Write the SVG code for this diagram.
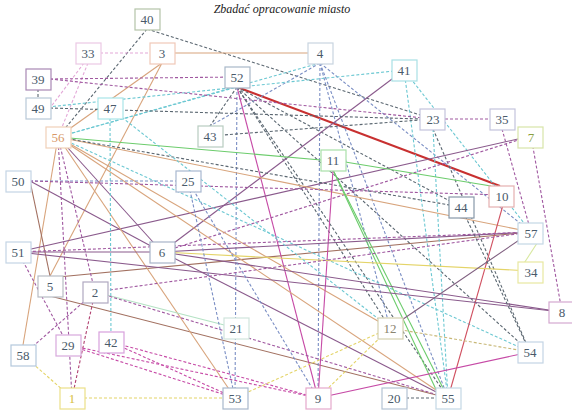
<svg xmlns="http://www.w3.org/2000/svg" width="572" height="410" viewBox="0 0 572 410">
<style>
.n rect{fill:#fff;stroke-width:1.2;width:25px;height:21px}
.n text{font-family:"Liberation Serif",serif;font-size:13px;fill:#4a5a6a;text-anchor:middle}
.e line{fill:none;stroke-width:1.1}
.d{stroke-dasharray:3,2}
.pe{stroke:#d8a47c}.br{stroke:#a27060}.pu{stroke:#8a5a8c}.ma{stroke:#c64aa6}.rd{stroke:#c83030}
.gr{stroke:#6ccc6c}.cy{stroke:#6cc8d2}.bl{stroke:#7a8ec4}.dk{stroke:#5a6670}.pk{stroke:#e4a8d8}
.ye{stroke:#e4d468}.kh{stroke:#c8b878}.lg{stroke:#b4e2c4}.vi{stroke:#a058a0}
</style>
<text x="282" y="13" font-family="Liberation Serif,serif" font-style="italic" font-size="12" text-anchor="middle" fill="#222">Zbadać opracowanie miasto</text>
<g id="connectors" class="e">
<line class="dk d" x1="147" y1="29" x2="433" y2="119"/>
<line class="dk d" x1="147" y1="29" x2="58" y2="137"/>
<line class="pk d" x1="100" y1="53" x2="150" y2="53"/>
<line class="pk d" x1="88" y1="63" x2="58" y2="137"/>
<line class="pk d" x1="84" y1="63" x2="50" y2="108"/>
<line class="pe" x1="174" y1="53" x2="308" y2="53"/>
<line class="pe" x1="162" y1="63" x2="58" y2="137"/>
<line class="pe" x1="162" y1="63" x2="50" y2="276"/>
<line class="pe" x1="58" y1="137" x2="23" y2="345"/>
<line class="br" x1="30" y1="181" x2="50" y2="276"/>
<line class="pu" x1="30" y1="181" x2="162" y2="252"/>
<line class="br" x1="50" y1="296" x2="448" y2="398"/>
<line class="br" x1="58" y1="277" x2="531" y2="232"/>
<line class="rd" x1="237" y1="87" x2="500" y2="186" style="stroke-width:2"/>
<line class="vi d" x1="50" y1="79" x2="237" y2="77"/>
<line class="ma" x1="237" y1="87" x2="318" y2="398"/>
<line class="dk d" x1="237" y1="87" x2="210" y2="126"/>
<line class="dk d" x1="237" y1="87" x2="448" y2="398"/>
<line class="dk d" x1="237" y1="87" x2="390" y2="328"/>
<line class="dk d" x1="237" y1="87" x2="530" y2="352"/>
<line class="dk d" x1="237" y1="87" x2="461" y2="207"/>
<line class="cy d" x1="58" y1="137" x2="237" y2="87"/>
<line class="bl d" x1="237" y1="87" x2="235" y2="398"/>
<line class="cy d" x1="320" y1="63" x2="58" y2="137"/>
<line class="bl d" x1="320" y1="63" x2="318" y2="398"/>
<line class="bl d" x1="320" y1="63" x2="448" y2="398"/>
<line class="bl d" x1="320" y1="63" x2="390" y2="328"/>
<line class="bl d" x1="320" y1="63" x2="531" y2="232"/>
<line class="bl d" x1="320" y1="63" x2="210" y2="126"/>
<line class="pu" x1="404" y1="70" x2="162" y2="252"/>
<line class="cy d" x1="404" y1="70" x2="38" y2="108"/>
<line class="cy d" x1="404" y1="70" x2="448" y2="398"/>
<line class="cy d" x1="404" y1="70" x2="531" y2="232"/>
<line class="vi d" x1="445" y1="119" x2="490" y2="119"/>
<line class="vi d" x1="50" y1="79" x2="433" y2="119"/>
<line class="dk d" x1="50" y1="108" x2="421" y2="119"/>
<line class="dk d" x1="433" y1="129" x2="530" y2="352"/>
<line class="cy d" x1="433" y1="129" x2="448" y2="398"/>
<line class="vi d" x1="502" y1="129" x2="531" y2="232"/>
<line class="pu" x1="531" y1="136" x2="18" y2="252"/>
<line class="vi d" x1="531" y1="136" x2="162" y2="252"/>
<line class="vi d" x1="531" y1="136" x2="562" y2="312"/>
<line class="gr" x1="58" y1="137" x2="321" y2="160"/>
<line class="pe" x1="58" y1="137" x2="531" y2="232"/>
<line class="pe" x1="58" y1="137" x2="448" y2="398"/>
<line class="pu" x1="58" y1="137" x2="162" y2="252"/>
<line class="pe" x1="58" y1="137" x2="235" y2="398"/>
<line class="pe" x1="58" y1="137" x2="390" y2="328"/>
<line class="vi d" x1="58" y1="137" x2="95" y2="292"/>
<line class="vi d" x1="58" y1="137" x2="72" y2="398"/>
<line class="cy d" x1="58" y1="137" x2="530" y2="352"/>
<line class="dk d" x1="58" y1="137" x2="461" y2="207"/>
<line class="gr" x1="333" y1="160" x2="491" y2="186"/>
<line class="gr" x1="333" y1="170" x2="448" y2="398"/>
<line class="gr" x1="333" y1="170" x2="440" y2="398"/>
<line class="ma" x1="333" y1="170" x2="318" y2="398"/>
<line class="rd" x1="503" y1="205" x2="448" y2="398" style="stroke:#d05060"/>
<line class="ma" x1="530" y1="352" x2="318" y2="398"/>
<line class="pu" x1="162" y1="252" x2="562" y2="312"/>
<line class="pu" x1="162" y1="252" x2="531" y2="232"/>
<line class="pu" x1="162" y1="252" x2="448" y2="398"/>
<line class="pu" x1="18" y1="252" x2="162" y2="252"/>
<line class="ye" x1="162" y1="252" x2="531" y2="271"/>
<line class="pu" x1="18" y1="252" x2="562" y2="312"/>
<line class="vi d" x1="18" y1="252" x2="531" y2="232"/>
<line class="vi d" x1="18" y1="252" x2="68" y2="345"/>
<line class="bl d" x1="30" y1="181" x2="188" y2="181"/>
<line class="vi d" x1="30" y1="181" x2="503" y2="195"/>
<line class="vi d" x1="95" y1="292" x2="23" y2="355"/>
<line class="vi d" x1="95" y1="292" x2="72" y2="398" style="stroke:#b04070"/>
<line class="lg" x1="95" y1="292" x2="236" y2="328"/>
<line class="vi d" x1="95" y1="292" x2="531" y2="232"/>
<line class="vi d" x1="95" y1="292" x2="448" y2="398"/>
<line class="cy d" x1="110" y1="118" x2="111" y2="342"/>
<line class="ma d" x1="111" y1="342" x2="318" y2="398"/>
<line class="ma d" x1="111" y1="342" x2="235" y2="398"/>
<line class="ma d" x1="68" y1="345" x2="235" y2="398"/>
<line class="ma d" x1="68" y1="345" x2="318" y2="398"/>
<line class="ye d" x1="84" y1="398" x2="223" y2="398"/>
<line class="ye d" x1="72" y1="398" x2="23" y2="355"/>
<line class="ye d" x1="235" y1="398" x2="390" y2="328"/>
<line class="bl d" x1="235" y1="398" x2="188" y2="181"/>
<line class="ye d" x1="318" y1="398" x2="390" y2="328"/>
<line class="bl d" x1="318" y1="398" x2="188" y2="181"/>
<line class="dk d" x1="406" y1="398" x2="436" y2="398"/>
<line class="kh d" x1="390" y1="328" x2="530" y2="352"/>
<line class="pu" x1="390" y1="328" x2="531" y2="232" style="stroke:#806080"/>
<line class="ye" x1="543" y1="234" x2="519" y2="271" style="stroke:#d8e8a0"/>
<line class="dk d" x1="461" y1="207" x2="530" y2="352"/>
<line class="cy d" x1="110" y1="108" x2="390" y2="328"/>
<line class="dk d" x1="38" y1="79" x2="38" y2="108"/>
<line class="dk d" x1="210" y1="136" x2="433" y2="119"/>
</g>
<g id="n40" class="n"><rect x="135" y="9" width="25" height="21" style="stroke:#b4c4a8"/><text x="147" y="24">40</text></g>
<g id="n33" class="n"><rect x="76" y="43" width="25" height="21" style="stroke:#ecc8e4"/><text x="88" y="58">33</text></g>
<g id="n3" class="n"><rect x="150" y="43" width="25" height="21" style="stroke:#f0c8b8"/><text x="162" y="58">3</text></g>
<g id="n4" class="n"><rect x="308" y="43" width="25" height="21" style="stroke:#c8d4e0"/><text x="320" y="58">4</text></g>
<g id="n52" class="n"><rect x="225" y="67" width="25" height="21" style="stroke:#a8b8c8"/><text x="237" y="82">52</text></g>
<g id="n41" class="n"><rect x="392" y="60" width="25" height="21" style="stroke:#a8e0e4"/><text x="404" y="75">41</text></g>
<g id="n39" class="n"><rect x="26" y="69" width="25" height="21" style="stroke:#a888b4"/><text x="38" y="84">39</text></g>
<g id="n49" class="n"><rect x="26" y="98" width="25" height="21" style="stroke:#b8c8d8"/><text x="38" y="113">49</text></g>
<g id="n47" class="n"><rect x="98" y="98" width="25" height="21" style="stroke:#a8e4e8"/><text x="110" y="113">47</text></g>
<g id="n43" class="n"><rect x="198" y="126" width="25" height="21" style="stroke:#b8ccc0"/><text x="210" y="141">43</text></g>
<g id="n23" class="n"><rect x="420" y="109" width="25" height="21" style="stroke:#c4c4dc"/><text x="433" y="124">23</text></g>
<g id="n35" class="n"><rect x="490" y="109" width="25" height="21" style="stroke:#c4c4dc"/><text x="502" y="124">35</text></g>
<g id="n7" class="n"><rect x="518" y="127" width="25" height="21" style="stroke:#d8e4a8"/><text x="531" y="142" style="fill:#8aa040">7</text></g>
<g id="n56" class="n"><rect x="46" y="127" width="25" height="21" style="stroke:#f0d0b8"/><text x="58" y="142" style="fill:#d89868">56</text></g>
<g id="n11" class="n"><rect x="321" y="150" width="25" height="21" style="stroke:#a8e0a8"/><text x="333" y="165">11</text></g>
<g id="n50" class="n"><rect x="6" y="171" width="25" height="21" style="stroke:#c4d4e4"/><text x="18" y="186">50</text></g>
<g id="n25" class="n"><rect x="176" y="171" width="25" height="21" style="stroke:#a8b8d0"/><text x="188" y="186">25</text></g>
<g id="n10" class="n"><rect x="489" y="186" width="25" height="21" style="stroke:#e4b0b0"/><text x="502" y="201">10</text></g>
<g id="n44" class="n"><rect x="449" y="197" width="25" height="21" style="stroke:#8898a8"/><text x="461" y="212">44</text></g>
<g id="n57" class="n"><rect x="518" y="223" width="25" height="21" style="stroke:#c4d8e4"/><text x="531" y="238">57</text></g>
<g id="n34" class="n"><rect x="518" y="262" width="25" height="21" style="stroke:#e8e8a0"/><text x="531" y="277">34</text></g>
<g id="n51" class="n"><rect x="6" y="242" width="25" height="21" style="stroke:#c4d4e4"/><text x="18" y="257">51</text></g>
<g id="n6" class="n"><rect x="150" y="242" width="25" height="21" style="stroke:#a8b4c8"/><text x="162" y="257">6</text></g>
<g id="n5" class="n"><rect x="38" y="276" width="25" height="21" style="stroke:#b8bcc4"/><text x="50" y="291">5</text></g>
<g id="n2" class="n"><rect x="83" y="282" width="25" height="21" style="stroke:#b0a8c0"/><text x="95" y="297">2</text></g>
<g id="n8" class="n"><rect x="549" y="302" width="25" height="21" style="stroke:#d4a8d0"/><text x="562" y="317">8</text></g>
<g id="n21" class="n"><rect x="224" y="318" width="25" height="21" style="stroke:#d0e4dc"/><text x="236" y="333">21</text></g>
<g id="n12" class="n"><rect x="378" y="318" width="25" height="21" style="stroke:#d4d0b0"/><text x="390" y="333" style="fill:#8a8470">12</text></g>
<g id="n54" class="n"><rect x="518" y="342" width="25" height="21" style="stroke:#c4d4e4"/><text x="530" y="357">54</text></g>
<g id="n58" class="n"><rect x="11" y="345" width="25" height="21" style="stroke:#b4c8dc"/><text x="23" y="360">58</text></g>
<g id="n29" class="n"><rect x="56" y="335" width="25" height="21" style="stroke:#d8a8dc"/><text x="68" y="350">29</text></g>
<g id="n42" class="n"><rect x="99" y="332" width="25" height="21" style="stroke:#d8a0dc"/><text x="111" y="347">42</text></g>
<g id="n1" class="n"><rect x="60" y="388" width="25" height="21" style="stroke:#ece088"/><text x="72" y="403" style="fill:#d8c040">1</text></g>
<g id="n53" class="n"><rect x="223" y="388" width="25" height="21" style="stroke:#a8b8cc"/><text x="235" y="403">53</text></g>
<g id="n9" class="n"><rect x="306" y="388" width="25" height="21" style="stroke:#e4a8cc"/><text x="318" y="403">9</text></g>
<g id="n20" class="n"><rect x="382" y="388" width="25" height="21" style="stroke:#b4c4d4"/><text x="394" y="403">20</text></g>
<g id="n55" class="n"><rect x="436" y="388" width="25" height="21" style="stroke:#c4d8e4"/><text x="448" y="403">55</text></g>
</svg>
